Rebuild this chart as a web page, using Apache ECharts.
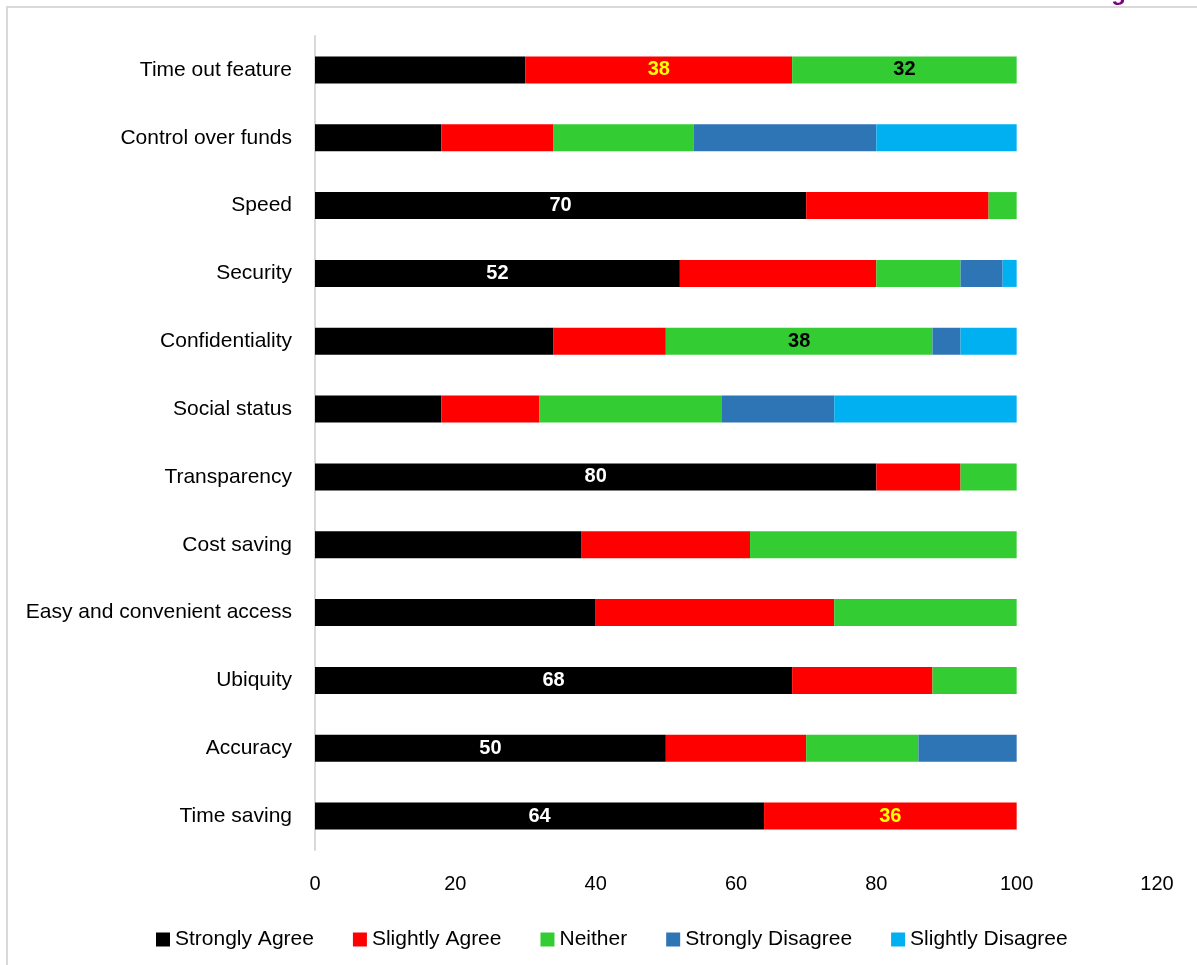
<!DOCTYPE html>
<html>
<head>
<meta charset="utf-8">
<script src="https://cdn.jsdelivr.net/npm/echarts@6/dist/echarts.min.js"></script>
<style>
  html, body { margin: 0; padding: 0; background: #fff; }
  #chart { width: 1197px; height: 965px; }
</style>
</head>
<body>
<div id="chart"></div>
<script>
// categories, top to bottom
const categories = [
  "Time out feature", "Control over funds", "Speed", "Security",
  "Confidentiality", "Social status", "Transparency", "Cost saving",
  "Easy and convenient access", "Ubiquity", "Accuracy", "Time saving"
];
const seriesNames = ["Strongly Agree", "Slightly Agree", "Neither", "Strongly Disagree", "Slightly Disagree"];
const stronglyAgree    = [30, 18, 70, 52, 34, 18, 80, 38, 40, 68, 50, 64];
const slightlyAgree    = [38, 16, 26, 28, 16, 14, 12, 24, 34, 20, 20, 36];
const neither          = [32, 20, 4, 12, 38, 26, 8, 38, 26, 12, 16, 0];
const stronglyDisagree = [0, 26, 0, 6, 4, 16, 0, 0, 0, 0, 14, 0];
const slightlyDisagree = [0, 20, 0, 2, 8, 26, 0, 0, 0, 0, 0, 0];
const xTicks = [0, 20, 40, 60, 80, 100, 120];

// which segments carry a value label, and in what colour
const shownLabels = {
  "Strongly Agree": { "Speed": "#fff", "Security": "#fff", "Transparency": "#fff", "Ubiquity": "#fff", "Accuracy": "#fff", "Time saving": "#fff" },
  "Slightly Agree": { "Time out feature": "#ffff00", "Time saving": "#ffff00" },
  "Neither": { "Time out feature": "#000", "Confidentiality": "#000" }
};

const colors = ["#000000", "#ff0000", "#33cc33", "#2e75b6", "#00b0f0"];
const allData = [stronglyAgree, slightlyAgree, neither, stronglyDisagree, slightlyDisagree];
const font = "'Liberation Sans', Arial, sans-serif";

const myChart = echarts.init(document.getElementById("chart"));

let series = seriesNames.map((name, i) => ({
  name: name,
  type: "bar",
  stack: "total",
  barWidth: 27,
  itemStyle: { color: colors[i] },
  data: allData[i].map((v, j) => {
    let item = { value: v };
    let lbl = shownLabels[name] && shownLabels[name][categories[j]];
    if (lbl) {
      item.label = {
        show: true,
        position: "inside",
        color: lbl,
        fontSize: 20,
        fontWeight: "bold",
        fontFamily: font,
      };
    }
    return item;
  }),
}));

let option = {
  animation: false,
  backgroundColor: "#fff",
  title: {
    text: "g",
    right: 66,
    top: -24,
    textStyle: { color: "#7f007f", fontSize: 24, fontWeight: "bold", fontFamily: font },
  },
  graphic: [
    {
      type: "rect",
      shape: { x: 7, y: 7, width: 1220, height: 1000 },
      style: { fill: "none", stroke: "#d9d9d9", lineWidth: 2 },
      z: -1,
    },
  ],
  legend: {
    data: seriesNames,
    left: 151,
    top: 924,
    itemWidth: 14,
    itemHeight: 14,
    itemGap: 39,
    icon: "rect",
    textStyle: { color: "#000", fontSize: 21, fontFamily: font },
  },
  grid: { left: 315, right: 40, top: 36, bottom: 115, containLabel: false },
  xAxis: {
    type: "value",
    min: xTicks[0],
    max: xTicks[xTicks.length - 1],
    interval: 20,
    axisLine: { show: false },
    axisTick: { show: false },
    splitLine: { show: false },
    axisLabel: { color: "#000", fontSize: 20, margin: 24, fontFamily: font },
  },
  yAxis: {
    type: "category",
    inverse: true,
    data: categories,
    axisLine: { show: true, lineStyle: { color: "#d9d9d9", width: 2 } },
    axisTick: { show: false },
    axisLabel: { color: "#000", fontSize: 21, margin: 23, fontFamily: font },
  },
  series: series,
};

myChart.setOption(option);
</script>
</body>
</html>
